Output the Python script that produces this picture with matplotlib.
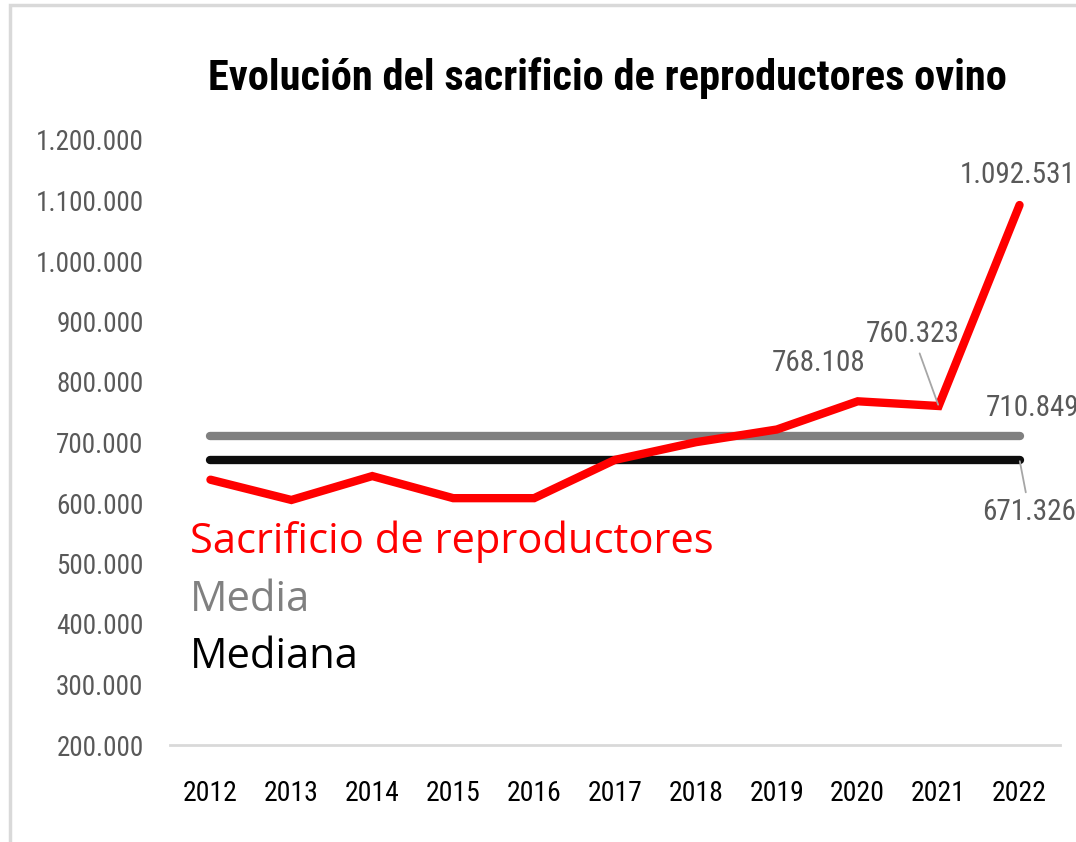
import matplotlib
matplotlib.use("Agg")
import matplotlib.pyplot as plt
from matplotlib import font_manager
from matplotlib.patches import Rectangle

years = ["2012", "2013", "2014", "2015", "2016", "2017", "2018", "2019", "2020", "2021", "2022"]
sacrificio = [638500, 605000, 644500, 608000, 608000, 671326, 700500, 721500, 768108, 760323, 1092531]
media = 710849
mediana = 671326
yticks = [200000, 300000, 400000, 500000, 600000, 700000, 800000, 900000, 1000000, 1100000, 1200000]


def fmt(v):
    return f"{v:,.0f}".replace(",", ".")


available = {f.name for f in font_manager.fontManager.ttflist}
narrow = next((f for f in ["Liberation Sans Narrow", "DejaVu Sans Condensed", "Roboto Condensed",
                           "Open Sans Condensed", "Liberation Sans"] if f in available), "DejaVu Sans")
wide = next((f for f in ["Open Sans", "Lato", "Noto Sans", "DejaVu Sans"] if f in available), "DejaVu Sans")

fig = plt.figure(figsize=(10.76, 8.42), dpi=100)
ax = fig.add_axes([170 / 1076, 1 - 745 / 842, (1060 - 170) / 1076, (745 - 140) / 842])

x = list(range(len(years)))
ax.plot(x, [media] * len(x), color="#808080", lw=6, solid_capstyle="round", zorder=2)
ax.plot(x, [mediana] * len(x), color="#0d0d0d", lw=6, solid_capstyle="round", zorder=2)
ax.plot(x, sacrificio, color="#ff0000", lw=6, solid_capstyle="round", solid_joinstyle="miter", zorder=3)

ax.set_xlim(-0.5, 10.5)
ax.set_ylim(200000, 1200000)
ax.set_yticks(yticks)
ax.set_yticklabels([fmt(v) for v in yticks], fontfamily=narrow, fontsize=19.5, color="#595959")
ax.set_xticks(x)
ax.set_xticklabels(years, fontfamily=narrow, fontsize=20, color="#000000")
ax.tick_params(axis="y", length=0, pad=19)
ax.tick_params(axis="x", length=0, pad=25)
for s in ["top", "right", "left"]:
    ax.spines[s].set_visible(False)
ax.spines["bottom"].set_color("#d9d9d9")
ax.spines["bottom"].set_linewidth(2)

lab_kw = dict(textcoords="offset pixels", fontfamily=narrow, fontsize=21, color="#595959",
              ha="center", va="center", annotation_clip=False)
ax.annotate(fmt(sacrificio[10]), xy=(10, sacrificio[10]), xytext=(-2, 30), **lab_kw)
ax.annotate(fmt(sacrificio[8]), xy=(8, sacrificio[8]), xytext=(-39, 38), **lab_kw)
ax.annotate(fmt(sacrificio[9]), xy=(9, sacrificio[9]), xytext=(-26, 72),
            arrowprops=dict(arrowstyle="-", color="#a6a6a6", lw=1.3, shrinkA=2, shrinkB=1), **lab_kw)
ax.annotate(fmt(media), xy=(10, media), xytext=(13, 28), **lab_kw)
ax.annotate(fmt(mediana), xy=(10, mediana), xytext=(10, -52),
            arrowprops=dict(arrowstyle="-", color="#a6a6a6", lw=1.3, shrinkA=2, shrinkB=1), **lab_kw)

fig.text(607 / 1076, 1 - 78 / 842, "Evolución del sacrificio de reproductores ovino",
         fontfamily=narrow, fontweight="bold", fontsize=30.5, ha="center", va="center", color="#000000")

leg_kw = dict(fontfamily=wide, fontsize=30, ha="left", va="center")
fig.text(190 / 1076, 1 - 542 / 842, "Sacrificio de reproductores", color="#ff0000", **leg_kw)
fig.text(190 / 1076, 1 - 600 / 842, "Media", color="#808080", **leg_kw)
fig.text(190 / 1076, 1 - 657 / 842, "Mediana", color="#000000", **leg_kw)

fig.patches.append(Rectangle((10 / 1076, -0.1), 1.2, 1 - 5 / 842 + 0.1, transform=fig.transFigure,
                             fill=False, edgecolor="#d9d9d9", lw=2.5, zorder=0))

fig.savefig("out.png", dpi=100)
